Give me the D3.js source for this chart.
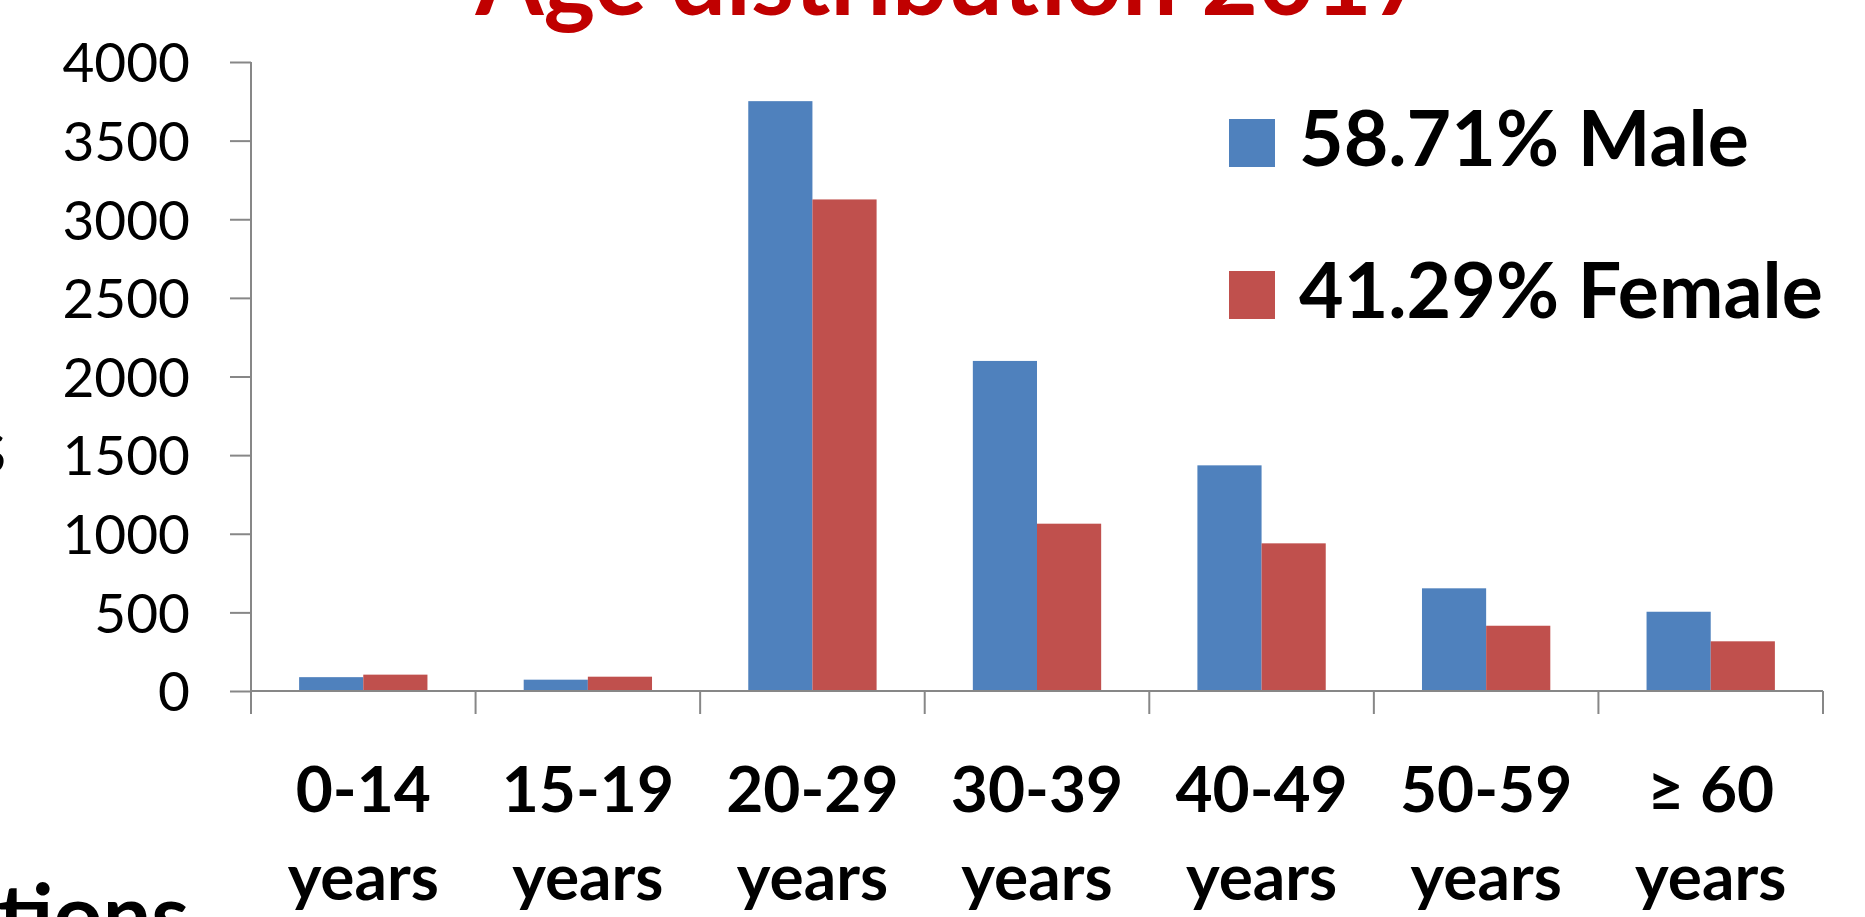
<!DOCTYPE html>
<html>
<head>
<meta charset="utf-8">
<script src="https://cdn.jsdelivr.net/npm/d3@7"></script>
<style>
  body { margin: 0; background: #fff; overflow: hidden; }
  svg { display: block; font-family: Lato, "Open Sans", sans-serif; }
</style>
</head>
<body>
<svg id="chart" width="1865" height="917"></svg>
<script>
// age groups and counts per gender
const ageGroups = ["0-14", "15-19", "20-29", "30-39", "40-49", "50-59", "\u2265 60"];
const maleCounts = [88, 72, 3751, 2099, 1435, 653, 504];
const femaleCounts = [104, 91, 3126, 1064, 939, 415, 316];
const seriesNames = ["58.71% Male", "41.29% Female"];
const yTicks = [0, 500, 1000, 1500, 2000, 2500, 3000, 3500, 4000];

const colors = ["#4F81BD", "#C0504D"];
const axisColor = "#878787";

const margin = { top: 62, right: 42, bottom: 226, left: 251 },
    width = 1865 - margin.left - margin.right,
    height = 917 - margin.top - margin.bottom;

const svg = d3.select("#chart");
const g = svg.append("g")
    .attr("transform", `translate(${margin.left},${margin.top})`);

const x = d3.scaleBand()
    .domain(ageGroups)
    .range([0, width]);

// gap width 150% like the office chart
const xInner = d3.scaleBand()
    .domain([0, 1])
    .range([0, x.bandwidth()])
    .paddingInner(0)
    .paddingOuter(0.75);

const y = d3.scaleLinear()
    .domain([0, 4000])
    .range([height, 0]);

// bars
const rows = ageGroups.map((a, i) => ({ age: a, values: [maleCounts[i], femaleCounts[i]] }));
const groups = g.selectAll(".grp")
    .data(rows)
    .enter().append("g")
    .attr("class", "grp")
    .attr("transform", d => `translate(${x(d.age)},0)`);

groups.selectAll("rect")
    .data(d => d.values.map((v, k) => ({ k: k, v: v })))
    .enter().append("rect")
    .attr("x", d => xInner(d.k))
    .attr("y", d => y(d.v))
    .attr("width", xInner.bandwidth())
    .attr("height", d => y(0) - y(d.v))
    .attr("fill", d => colors[d.k]);

// y axis
const yAxis = g.append("g")
    .call(d3.axisLeft(y).tickValues(yTicks).tickFormat(d3.format("d"))
        .tickSize(21).tickSizeOuter(0).tickPadding(40));
yAxis.select(".domain").remove();
yAxis.selectAll("line").attr("stroke", axisColor).attr("stroke-width", 2);
yAxis.selectAll("text")
    .attr("fill", "#000")
    .style("font-size", "55px")
    .style("font-family", "Lato")
    .attr("dy", "0.36em");

g.append("line")
    .attr("x1", 0).attr("x2", 0)
    .attr("y1", 0).attr("y2", height + 23)
    .attr("stroke", axisColor).attr("stroke-width", 2);

// x axis: line plus ticks at category boundaries
g.append("line")
    .attr("x1", 0).attr("x2", width)
    .attr("y1", y(0)).attr("y2", y(0))
    .attr("stroke", axisColor).attr("stroke-width", 2);

const bounds = ageGroups.map(a => x(a)).concat([x.range()[1]]).slice(1);
g.selectAll(".xtick")
    .data(bounds)
    .enter().append("line")
    .attr("x1", d => d).attr("x2", d => d)
    .attr("y1", y(0)).attr("y2", y(0) + 23)
    .attr("stroke", axisColor).attr("stroke-width", 2);

const xLabels = g.selectAll(".xlab")
    .data(ageGroups)
    .enter().append("text")
    .attr("text-anchor", "middle")
    .style("font-size", "64px")
    .style("font-weight", "bold")
    .attr("fill", "#000");
xLabels.append("tspan")
    .attr("x", d => x(d) + x.bandwidth() / 2)
    .attr("y", y(0) + 121)
    .text(d => d);
xLabels.append("tspan")
    .attr("x", d => x(d) + x.bandwidth() / 2)
    .attr("y", y(0) + 209)
    .text("years");

// legend
const legend = svg.selectAll(".legend")
    .data(seriesNames)
    .enter().append("g")
    .attr("transform", (d, i) => `translate(1229,${119 + i * 152})`);
legend.append("rect")
    .attr("width", 46).attr("height", 48)
    .attr("fill", (d, i) => colors[i]);
legend.append("text")
    .attr("x", 70).attr("y", 47)
    .style("font-size", "77px")
    .style("font-weight", "bold")
    .attr("fill", "#000")
    .text(d => d);

// title, cut at the top of the picture
svg.append("text")
    .attr("x", 952).attr("y", 15)
    .attr("text-anchor", "middle")
    .style("font-size", "98px")
    .style("font-weight", "bold")
    .attr("fill", "#C00000")
    .text("Age distribution 2017");

// bits of surrounding slide text that are cut off at the edges
svg.append("text")
    .attr("x", 6).attr("y", 473)
    .attr("text-anchor", "end")
    .style("font-size", "55px")
    .attr("fill", "#000")
    .text("S");

svg.append("text")
    .attr("x", -2).attr("y", 946)
    .style("font-size", "86px")
    .style("font-weight", "bold")
    .attr("fill", "#000")
    .text("tions");
</script>
</body>
</html>
